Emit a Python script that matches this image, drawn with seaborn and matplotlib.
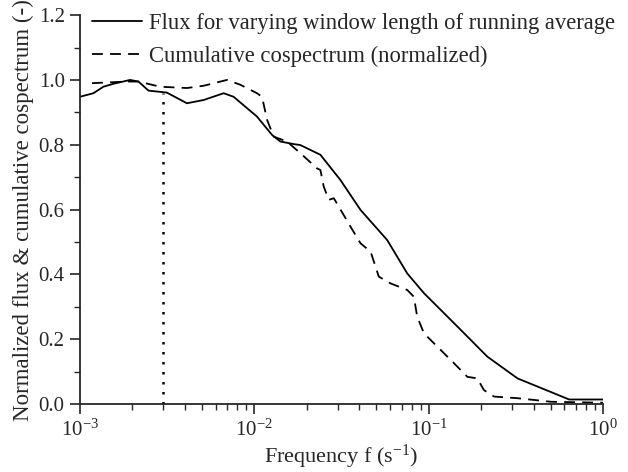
import numpy as np
import pandas as pd
import matplotlib
matplotlib.use("Agg")
import matplotlib.pyplot as plt
import seaborn as sns
from matplotlib.ticker import LogLocator, MultipleLocator

## Data ##

# flux for varying window length of running average (log10 of frequency)
flux_logf = [-3.000, -2.923, -2.866, -2.809, -2.713, -2.665, -2.607, -2.502, -2.387,
             -2.291, -2.176, -2.119, -1.985, -1.898, -1.851, -1.774, -1.736, -1.621,
             -1.506, -1.391, -1.238, -1.123, -1.027, -0.835, -0.663, -0.490, -0.194, 0.000]
flux_val = [0.948, 0.959, 0.979, 0.988, 1.000, 0.995, 0.967, 0.961, 0.928,
            0.938, 0.959, 0.948, 0.887, 0.830, 0.810, 0.802, 0.799, 0.769,
            0.691, 0.599, 0.506, 0.403, 0.342, 0.239, 0.146, 0.079, 0.014, 0.014]

# cumulative cospectrum (normalized)
cosp_logf = [-2.931, -2.732, -2.665, -2.540, -2.387, -2.291, -2.157, -2.080, -1.985,
             -1.956, -1.927, -1.889, -1.813, -1.736, -1.640, -1.621, -1.602, -1.573,
             -1.544, -1.448, -1.391, -1.333, -1.286, -1.218, -1.123, -1.085, -1.066,
             -1.027, -0.950, -0.855, -0.778, -0.721, -0.683, -0.625, -0.490, -0.299, 0.000]
cosp_val = [0.990, 0.995, 0.995, 0.979, 0.975, 0.982, 1.000, 0.985, 0.959,
            0.948, 0.877, 0.825, 0.810, 0.774, 0.727, 0.722, 0.671, 0.630,
            0.635, 0.547, 0.496, 0.470, 0.393, 0.372, 0.352, 0.331, 0.270,
            0.218, 0.177, 0.126, 0.084, 0.079, 0.043, 0.023, 0.018, 0.007, 0.004]

cutoff_f = 0.003
cutoff_top = 0.96

flux = pd.DataFrame({"f": 10 ** np.array(flux_logf), "v": flux_val})
cosp = pd.DataFrame({"f": 10 ** np.array(cosp_logf), "v": cosp_val})

## Style ##

sns.set_style("ticks")
plt.rcParams["font.family"] = ["Liberation Serif", "DejaVu Serif"]
plt.rcParams["mathtext.fontset"] = "custom"
plt.rcParams["mathtext.rm"] = "Liberation Serif"
plt.rcParams["mathtext.it"] = "Liberation Serif:italic"

fig = plt.figure(figsize=(6.28, 4.72), dpi=100)
ax = fig.add_axes([0.1274, 0.144, 0.8328, 0.824])

sns.lineplot(data=flux, x="f", y="v", ax=ax, color="black", lw=1.3,
             label="Flux for varying window length of running average")
sns.lineplot(data=cosp, x="f", y="v", ax=ax, color="black", lw=1.3,
             dashes=False, label="Cumulative cospectrum (normalized)")
ax.lines[1].set_dashes([6, 4])
ax.vlines(cutoff_f, 0, cutoff_top, colors="black", linestyles=(0, (1, 3)), lw=1.8)

ax.set_xscale("log")
ax.set_xlim(1e-3, 1)
ax.set_ylim(0, 1.2)
ax.yaxis.set_major_locator(MultipleLocator(0.2))
ax.yaxis.set_minor_locator(MultipleLocator(0.1))
ax.xaxis.set_major_locator(LogLocator(base=10))
ax.xaxis.set_minor_locator(LogLocator(base=10, subs=np.arange(2, 10)))
ax.yaxis.set_major_formatter(plt.FuncFormatter(lambda v, p: "%.1f" % v))

sns.despine(ax=ax)
for s in ["left", "bottom"]:
    ax.spines[s].set_linewidth(1.3)
ax.tick_params(which="major", direction="out", length=7, width=1.2, labelsize=15, pad=4)
ax.tick_params(which="minor", direction="out", length=4, width=1.0)

ax.set_xlabel("Frequency f (s$^{-1}$)", fontsize=16, labelpad=2)
ax.set_ylabel("Normalized flux & cumulative cospectrum (-)", fontsize=16.5, labelpad=3)

leg = ax.legend(loc="upper left", bbox_to_anchor=(0.023, 1.005), frameon=False,
                fontsize=16.3, handlelength=2.2, handletextpad=0.3, labelspacing=0.5,
                borderpad=0, borderaxespad=0)
leg.get_lines()[1].set_dashes([6, 4])

fig.savefig("out.png", dpi=100)
